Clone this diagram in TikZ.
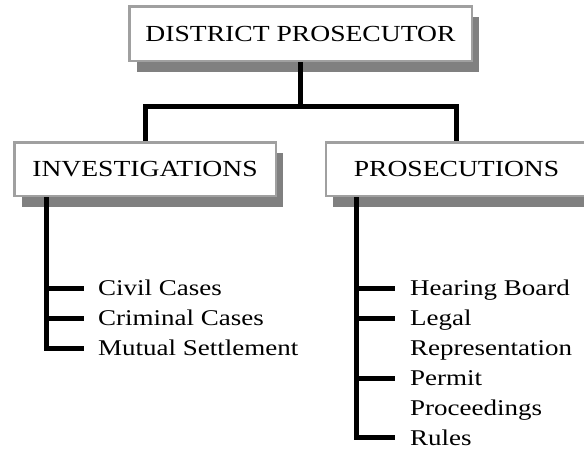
\documentclass[tikz,border=0pt]{standalone}
\usepackage{fontspec}
\usetikzlibrary{shadows,calc}
\newfontfamily\widefont[FakeStretch=1.2]{Liberation Serif}
\definecolor{boxline}{HTML}{A0A0A0}
\definecolor{shadowgray}{HTML}{808080}
\tikzset{
  orgbox/.style={draw=boxline, line width=2.5pt, fill=white, inner sep=0pt,
    font=\widefont\fontsize{23}{27}\selectfont,
    drop shadow={shadow xshift=7.5pt, shadow yshift=-11pt, fill=shadowgray, opacity=1}},
  item/.style={anchor=west, inner sep=0pt, text height=15pt, text depth=0pt,
    font=\widefont\fontsize{22.5}{27}\selectfont},
  conn/.style={line width=5pt, black, line join=miter, line cap=butt}
}
\begin{document}
\begin{tikzpicture}[x=1pt,y=-1pt]
\useasboundingbox (0,0) rectangle (584,448);
\clip (0,0) rectangle (584,448);
% boxes
\node[orgbox, minimum width=342.5pt, minimum height=54.5pt] (dp) at (300.5,33.5) {DISTRICT PROSECUTOR};
\node[orgbox, minimum width=261.5pt, minimum height=53.5pt] (inv) at (145,169) {INVESTIGATIONS};
\node[orgbox, minimum width=261.5pt, minimum height=53.5pt] (pro) at (456.5,169) {PROSECUTIONS};
% items
\node[item] (civ) at (98,288) {Civil Cases};
\node[item] (cri) at (98,318) {Criminal Cases};
\node[item] (mut) at (98,348) {Mutual Settlement};
\node[item] (hea) at (410,288) {Hearing Board};
\node[item] (leg) at (410,318) {Legal};
\node[item] (rep) at (410,348) {Representation};
\node[item] (per) at (410,378) {Permit};
\node[item] (prc) at (410,408) {Proceedings};
\node[item] (rul) at (410,437.5) {Rules};
% connectors
\coordinate (bus) at (0,106);
\draw[conn] (dp.south) -- (dp.south |- bus);
\draw[conn] (inv.north) -- (inv.north |- bus) -- (pro.north |- bus) -- (pro.north);
\coordinate (isp) at ($(inv.south west)+(33,0)$);
\coordinate (psp) at ($(pro.south west)+(32,0)$);
\draw[conn] (isp) |- ($(mut.west)+(-14,0)$);
\draw[conn] (isp |- civ.west) -- ($(civ.west)+(-14,0)$);
\draw[conn] (isp |- cri.west) -- ($(cri.west)+(-14,0)$);
\draw[conn] (psp) |- ($(rul.west)+(-15,0)$);
\draw[conn] (psp |- hea.west) -- ($(hea.west)+(-15,0)$);
\draw[conn] (psp |- leg.west) -- ($(leg.west)+(-15,0)$);
\draw[conn] (psp |- per.west) -- ($(per.west)+(-15,0)$);
\end{tikzpicture}
\end{document}
